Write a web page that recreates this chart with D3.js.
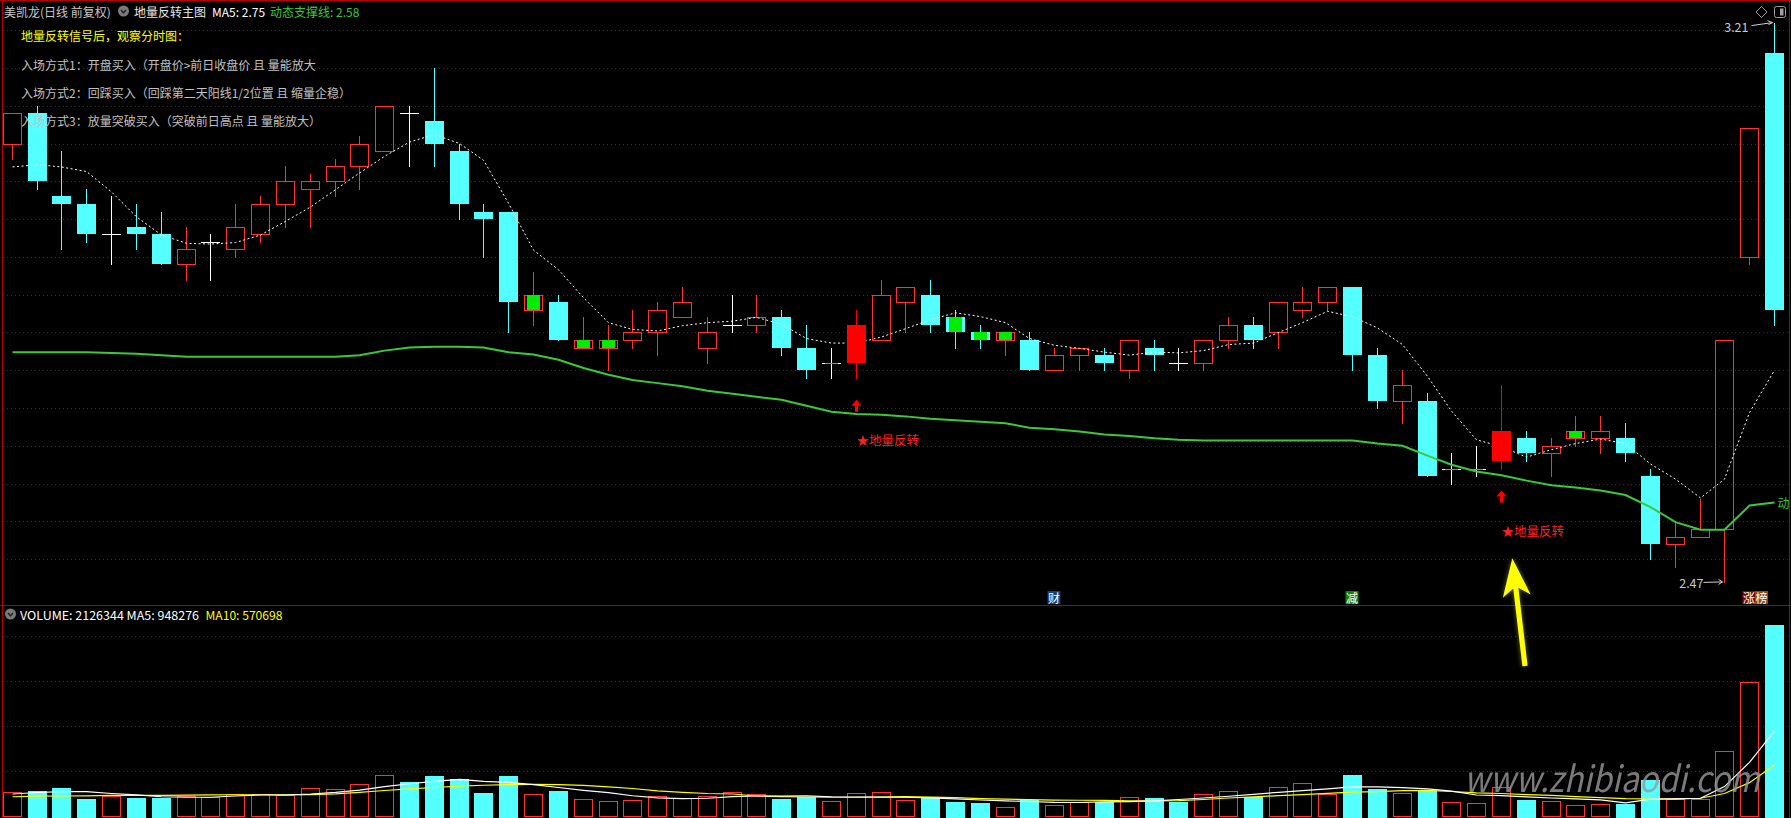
<!DOCTYPE html>
<html><head><meta charset="utf-8">
<script src="https://cdn.jsdelivr.net/npm/d3@7"></script>
<style>
html,body{margin:0;padding:0;background:#000;overflow:hidden}
svg{display:block}
text{font-family:"Noto Sans CJK SC","Noto Sans",sans-serif}
</style></head><body><svg id="c" width="1791" height="818"></svg>
<script>
// ---------- data ----------
const opens=[3.05,3.09,2.98,2.97,2.93,2.94,2.93,2.89,2.92,2.91, 2.93,2.97,2.99,3.00,3.02,3.04,3.09,3.08,3.04,2.96, 2.96,2.83,2.84,2.78,2.78,2.79,2.80,2.82,2.78,2.81, 2.81,2.82,2.78,2.76,2.76,2.79,2.84,2.85,2.82,2.80, 2.79,2.79,2.75,2.77,2.77,2.75,2.78,2.76,2.76,2.79, 2.81,2.80,2.83,2.84,2.86,2.77,2.71,2.71,2.62,2.62, 2.63,2.66,2.64,2.66,2.66,2.66,2.61,2.52,2.53,2.54, 2.90,3.17];
const closes=[3.09,3.00,2.97,2.93,2.93,2.93,2.89,2.91,2.92,2.94, 2.97,3.00,3.00,3.02,3.05,3.10,3.09,3.05,2.97,2.95, 2.84,2.85,2.79,2.79,2.79,2.80,2.83,2.84,2.80,2.81, 2.82,2.78,2.75,2.76,2.81,2.85,2.86,2.81,2.80,2.79, 2.80,2.75,2.77,2.78,2.76,2.79,2.77,2.76,2.79,2.81, 2.79,2.84,2.84,2.86,2.77,2.71,2.73,2.61,2.62,2.62, 2.67,2.64,2.65,2.67,2.67,2.64,2.52,2.53,2.54,2.79, 3.07,2.83];
const highs=[3.09,3.10,3.04,2.99,2.98,2.97,2.96,2.94,2.93,2.97, 2.98,3.02,3.01,3.03,3.06,3.10,3.10,3.15,3.05,2.97, 2.96,2.88,2.85,2.82,2.81,2.83,2.84,2.86,2.82,2.85, 2.85,2.83,2.81,2.78,2.83,2.87,2.86,2.87,2.83,2.81, 2.80,2.80,2.78,2.78,2.78,2.79,2.79,2.78,2.79,2.82, 2.82,2.84,2.86,2.86,2.86,2.78,2.75,2.72,2.64,2.65, 2.73,2.67,2.66,2.69,2.69,2.68,2.62,2.55,2.58,2.79, 3.07,3.21];
const lows=[3.03,2.99,2.91,2.92,2.89,2.91,2.89,2.87,2.87,2.90, 2.92,2.94,2.94,2.98,2.99,3.04,3.02,3.02,2.95,2.90, 2.80,2.81,2.79,2.78,2.75,2.78,2.77,2.82,2.76,2.80, 2.80,2.77,2.74,2.74,2.74,2.79,2.80,2.80,2.78,2.78, 2.77,2.75,2.75,2.75,2.75,2.74,2.75,2.75,2.75,2.78, 2.78,2.78,2.82,2.83,2.75,2.70,2.68,2.61,2.60,2.61, 2.62,2.63,2.61,2.65,2.64,2.63,2.50,2.49,2.53,2.47, 2.89,2.81];
const ma5Line=[3.019,3.022,3.019,3.013,2.986,2.953,2.929,2.918,2.917,2.919, 2.929,2.947,2.966,2.989,3.011,3.033,3.052,3.062,3.050,3.028, 2.971,2.909,2.883,2.846,2.813,2.804,2.802,2.809,2.813,2.815, 2.820,2.811,2.792,2.786,2.786,2.794,2.805,2.817,2.826,2.821, 2.813,2.792,2.783,2.779,2.774,2.770,2.774,2.773,2.776,2.784, 2.786,2.800,2.813,2.828,2.821,2.806,2.784,2.742,2.696,2.658, 2.649,2.635,2.645,2.653,2.659,2.653,2.626,2.606,2.581,2.606, 2.694,2.750];
const supportLine=[2.774,2.774,2.774,2.774,2.773,2.772,2.770,2.768,2.768,2.768, 2.768,2.768,2.768,2.768,2.770,2.776,2.780,2.781,2.781,2.780, 2.774,2.771,2.764,2.753,2.744,2.737,2.733,2.729,2.723,2.719, 2.715,2.711,2.703,2.695,2.692,2.691,2.689,2.686,2.684,2.682, 2.680,2.674,2.672,2.669,2.665,2.663,2.660,2.658,2.657,2.657, 2.657,2.657,2.657,2.657,2.657,2.653,2.650,2.637,2.625,2.616, 2.611,2.604,2.598,2.595,2.591,2.585,2.569,2.549,2.539,2.539, 2.571,2.575];
const volumes=[268000,282000,316000,194000,223000,205000,205000,231000,220000,249000, 249000,235000,312000,301000,360000,460000,382000,449000,411000,260000, 449000,249000,282000,190000,168000,183000,223000,200000,223000,268000, 249000,194000,216000,168000,257000,268000,179000,220000,161000,150000, 101000,186000,124000,157000,161000,212000,205000,157000,246000,279000, 212000,323000,368000,249000,460000,305000,260000,282000,157000,146000, 323000,183000,168000,124000,135000,138000,400000,194000,194000,729000, 1486000,2126344];
const volMa5=[249000,266000,275000,275000,255000,239000,219000,213000,213000,227000, 238000,238000,249000,268000,293000,330000,363000,390000,412000,390000, 377000,352000,321000,290000,264000,230000,207000,199000,202000,220000, 227000,227000,229000,219000,216000,214000,213000,205000,196000,183000, 172000,166000,157000,155000,161000,165000,174000,188000,205000,224000, 246000,268000,287000,305000,327000,327000,319000,307000,282000,238000, 232000,218000,205000,195000,185000,152000,193000,196000,202000,331000, 600000,948276];
const volMa10=[219000,225000,227000,229000,233000,235000,235000,237000,240000,241000, 241000,239000,243000,251000,267000,288000,305000,321000,336000,346000, 354000,356000,354000,344000,328000,310000,283000,268000,255000,249000, 227000,220000,216000,213000,213000,216000,219000,214000,208000,199000, 193000,187000,182000,180000,178000,174000,173000,175000,188000,205000, 217000,231000,243000,256000,270000,276000,287000,290000,277000,261000, 255000,243000,233000,220000,210000,197000,194000,196000,202000,255000, 375000,570698];
const greenMarks=[22,24,25,34,39,40,41,59,60,64];   // bar numbers (1-based)
const signalBars=[35,61];                            // 地量反转 signals
const eventTags=[{bar:43,text:"财",bg:"#123f80"},{bar:55,text:"减",bg:"#0a840a"},{bar:71,text:"涨",bg:"#7a0a0a"},{bar:71,text:"榜",bg:"#8c4c10",shift:1}];
const priceGrid=[3.20,3.15,3.10,3.05,3.00,2.95,2.90,2.85,2.80,2.75,2.70,2.65,2.60,2.55,2.50];
const volGrid=[500000,1000000,1500000,2000000];
const titleParts=[{t:"美凯龙(日线 前复权)",c:"#c8c8c8",x:4},{t:"地量反转主图",c:"#e6e6e6",x:134},{t:"MA5: 2.75",c:"#ffffff",x:212},{t:"动态支撑线: 2.58",c:"#3cc83c",x:270}];
const notes=[{t:"地量反转信号后，观察分时图：",c:"#ffff00"},{t:"入场方式1：开盘买入（开盘价>前日收盘价 且 量能放大",c:"#c0c0c0"},{t:"入场方式2：回踩买入（回踩第二天阳线1/2位置 且 缩量企稳）",c:"#c0c0c0"},{t:"入场方式3：放量突破买入（突破前日高点 且 量能放大）",c:"#c0c0c0"}];
const noteY=[35,64.7,92.8,120.5];

// ---------- setup ----------
const svg=d3.select("#c");
const RED="#ff3232",CYAN="#54ffff",GREEN="#00ec00",SIG="#ff0000",GRID="#a00000",FRAME="#b40000",SUP="#3cc83c";
const n=closes.length, idx=d3.range(n);
const x=d3.scaleBand().domain(idx).range([0,1787]).paddingInner(0.23).paddingOuter(0.115);
const y=d3.scaleLinear().domain([2.47,3.21]).range([581.9,22.6]);
const yv=d3.scaleLinear().domain([0,2126344]).range([816.5,624.5]);
const bw=Math.round(x.bandwidth());
const L=i=>Math.round(x(i));
const C=i=>L(i)+Math.floor(bw/2)+0.5;
const R=v=>Math.round(v);
const sig=new Set(signalBars.map(d=>d-1)), gm=new Set(greenMarks.map(d=>d-1));

svg.append("rect").attr("width",1791).attr("height",818).attr("fill","#000");

// grids
const grid=svg.append("g").attr("shape-rendering","crispEdges");
grid.selectAll(".pg").data(priceGrid).join("line").attr("x1",3).attr("x2",1789)
  .attr("y1",d=>R(y(d))+0.5).attr("y2",d=>R(y(d))+0.5).attr("stroke",GRID).attr("stroke-dasharray","1,3");
grid.selectAll(".vg").data(volGrid).join("line").attr("x1",3).attr("x2",1789)
  .attr("y1",d=>R(yv(d))+0.5).attr("y2",d=>R(yv(d))+0.5).attr("stroke",GRID).attr("stroke-dasharray","1,3");

// frame
const fr=svg.append("g").attr("stroke",FRAME).attr("shape-rendering","crispEdges");
fr.append("line").attr("x1",0).attr("x2",1791).attr("y1",0.5).attr("y2",0.5);
fr.append("line").attr("x1",2.5).attr("x2",2.5).attr("y1",0).attr("y2",818);
fr.append("line").attr("x1",1789.5).attr("x2",1789.5).attr("y1",0).attr("y2",818);
fr.append("line").attr("x1",0).attr("x2",1791).attr("y1",605.5).attr("y2",605.5);

// candles
const cg=svg.append("g").attr("shape-rendering","crispEdges");
idx.forEach(i=>{
  const o=opens[i],c=closes[i],h=highs[i],l=lows[i];
  const yt=R(y(Math.max(o,c))), yb=R(y(Math.min(o,c))), yh=R(y(h)), yl=R(y(l));
  const cx=C(i), lx=L(i);
  if(sig.has(i)) return;
  if(c>o){
    if(yh<yt) cg.append("line").attr("x1",cx).attr("x2",cx).attr("y1",yh).attr("y2",yt).attr("stroke",RED);
    if(yl>yb) cg.append("line").attr("x1",cx).attr("x2",cx).attr("y1",yb+1).attr("y2",yl+1).attr("stroke",RED);
    cg.append("rect").attr("x",lx+0.5).attr("y",yt+0.5).attr("width",bw-1).attr("height",yb-yt).attr("fill","none").attr("stroke",RED);
  } else if(c<o){
    cg.append("line").attr("x1",cx).attr("x2",cx).attr("y1",yh).attr("y2",yl+1).attr("stroke",CYAN);
    cg.append("rect").attr("x",lx).attr("y",yt).attr("width",bw).attr("height",Math.max(1,yb-yt)).attr("fill",CYAN);
  } else {
    cg.append("line").attr("x1",cx).attr("x2",cx).attr("y1",yh).attr("y2",yl+1).attr("stroke","#ffffff");
    cg.append("line").attr("x1",lx).attr("x2",lx+bw).attr("y1",yt+0.5).attr("y2",yt+0.5).attr("stroke","#ffffff");
  }
  if(gm.has(i)){
    cg.append("rect").attr("x",lx+3).attr("y",yt).attr("width",bw-6).attr("height",Math.max(1,yb-yt)).attr("fill",GREEN);
  }
});

// support line + MA5
svg.append("path").datum(supportLine).attr("fill","none").attr("stroke",SUP).attr("stroke-width",2)
  .attr("d",d3.line().x((d,i)=>C(i)).y(d=>y(d)));
svg.append("path").datum(ma5Line).attr("fill","none").attr("stroke","#ffffff").attr("stroke-width",1)
  .attr("stroke-dasharray","2,2.5").attr("d",d3.line().x((d,i)=>C(i)).y(d=>y(d)));

// signal candles + markers
signalBars.map(d=>d-1).forEach(i=>{
  const o=opens[i],c=closes[i];
  const yt=R(y(Math.max(o,c))), yb=R(y(Math.min(o,c))), yh=R(y(highs[i])), yl=R(y(lows[i]));
  const cx=C(i), lx=L(i);
  svg.append("line").attr("x1",cx).attr("x2",cx).attr("y1",yh).attr("y2",yl+1).attr("stroke",SIG).attr("shape-rendering","crispEdges");
  svg.append("rect").attr("x",lx).attr("y",yt).attr("width",bw).attr("height",yb-yt).attr("fill",SIG).attr("shape-rendering","crispEdges");
  const top=y(lows[i])+22;
  svg.append("path").attr("d",`M${cx-5},${top+6}L${cx},${top}L${cx+5},${top+6}Z`).attr("fill",SIG);
  svg.append("rect").attr("x",cx-1.5).attr("y",top+5.5).attr("width",3).attr("height",6.5).attr("fill",SIG);
  svg.append("text").attr("x",cx).attr("y",y(lows[i])+62).attr("dominant-baseline","central")
    .attr("font-size",12.5).attr("fill","#ff2020").text("★地量反转");
});

// end label of support line
svg.append("text").attr("x",C(n-1)+3).attr("y",y(supportLine[n-1])).attr("dominant-baseline","central")
  .attr("font-size",12).attr("fill",SUP).text("动");

// high/low labels
const hi=d3.maxIndex(highs), lo=d3.minIndex(lows);
const hx=C(hi), hy=y(highs[hi]);
svg.append("path").attr("d",`M${hx-23},${hy+3}L${hx-2},${hy}M${hx-7},${hy-2}L${hx-2},${hy}L${hx-6},${hy+2}`).attr("stroke","#d0d0d0").attr("fill","none");
svg.append("text").attr("x",hx-26).attr("y",hy+4).attr("text-anchor","end").attr("dominant-baseline","central").attr("font-size",12.5).attr("fill","#c8c8c8").text(highs[hi].toFixed(2));
const lx2=C(lo), ly2=y(lows[lo]);
svg.append("path").attr("d",`M${lx2-21},${ly2+0.5}L${lx2-2},${ly2}M${lx2-6},${ly2-2.5}L${lx2-2},${ly2}L${lx2-6},${ly2+2.5}`).attr("stroke","#d0d0d0").attr("fill","none");
svg.append("text").attr("x",lx2-21).attr("y",ly2+1).attr("text-anchor","end").attr("dominant-baseline","central").attr("font-size",12.5).attr("fill","#c8c8c8").text(lows[lo].toFixed(2));

// event tags
eventTags.forEach(t=>{
  const cx=C(t.bar-1)-0.5+(t.shift?12.5:0);
  svg.append("rect").attr("x",cx-6.5).attr("y",591).attr("width",13).attr("height",13).attr("fill",t.bg);
  svg.append("text").attr("x",cx).attr("y",597.5).attr("text-anchor","middle").attr("dominant-baseline","central")
    .attr("font-size",12).attr("fill","#ffffff").text(t.text);
});

// volume bars
const vg=svg.append("g").attr("shape-rendering","crispEdges");
idx.forEach(i=>{
  const up=closes[i]>opens[i]||(closes[i]===opens[i]&&(i===0||closes[i]>=closes[i-1]));
  const top=R(yv(volumes[i])), lx=L(i);
  if(up) vg.append("rect").attr("x",lx+0.5).attr("y",top+0.5).attr("width",bw-1).attr("height",816-top).attr("fill","none").attr("stroke",RED);
  else vg.append("rect").attr("x",lx).attr("y",top).attr("width",bw).attr("height",818-top).attr("fill",CYAN);
});
svg.append("path").datum(volMa10).attr("fill","none").attr("stroke","#ffff00").attr("stroke-width",1.2)
  .attr("d",d3.line().x((d,i)=>C(i)).y(d=>yv(d)));
svg.append("path").datum(volMa5).attr("fill","none").attr("stroke","#ffffff").attr("stroke-width",1.2)
  .attr("d",d3.line().x((d,i)=>C(i)).y(d=>yv(d)));

// titles
titleParts.forEach(p=>svg.append("text").attr("x",p.x).attr("y",11).attr("dominant-baseline","central").attr("font-size",12).attr("fill",p.c).text(p.t));
function icon(cx,cy){
  svg.append("circle").attr("cx",cx).attr("cy",cy).attr("r",5.5).attr("fill","#7a7a7a");
  svg.append("path").attr("d",`M${cx-2.5},${cy-1}L${cx},${cy+1.8}L${cx+2.5},${cy-1}`).attr("stroke","#262626").attr("stroke-width",1.6).attr("fill","none");
}
icon(123.5,11);
notes.forEach((p,k)=>svg.append("text").attr("x",21).attr("y",noteY[k]).attr("dominant-baseline","central").attr("font-size",12).attr("fill",p.c).text(p.t));
icon(10.5,614);
svg.append("text").attr("x",20).attr("y",614).attr("dominant-baseline","central").attr("font-size",12).attr("fill","#ffffff")
  .attr("textLength",179).attr("lengthAdjust","spacingAndGlyphs").text("VOLUME: "+volumes[n-1]+" MA5: "+volMa5[n-1]);
svg.append("text").attr("x",205.5).attr("y",614).attr("dominant-baseline","central").attr("font-size",12).attr("fill","#ffff00")
  .attr("textLength",77).attr("lengthAdjust","spacingAndGlyphs").text("MA10: "+volMa10[n-1]);

// top-right icons
svg.append("path").attr("d","M1761.5,6.5L1767,12L1761.5,17.5L1756,12Z").attr("fill","none").attr("stroke","#a0a0a0");
svg.append("rect").attr("x",1774.5).attr("y",6.5).attr("width",11).attr("height",11).attr("rx",2).attr("fill","none").attr("stroke","#a0a0a0");
svg.append("rect").attr("x",1780).attr("y",8.5).attr("width",3.5).attr("height",7).attr("fill","#a0a0a0");

// yellow annotation arrow pointing at the second signal
(function(){
  const i=signalBars[1]-1, bx=C(i);
  const tip=[bx+10.8,558.3], tail=[bx+23.5,666];
  const dx=tip[0]-tail[0], dy=tip[1]-tail[1], len=Math.hypot(dx,dy), ux=dx/len, uy=dy/len, nx=-uy, ny=ux;
  const hb=[tip[0]-ux*38,tip[1]-uy*38], nb=[tip[0]-ux*30,tip[1]-uy*30];
  const P=(p,k)=>`${p[0]+nx*k},${p[1]+ny*k}`;
  const d=`M${tip[0]},${tip[1]}L${P(hb,14)}L${P(nb,2.6)}L${P(tail,2.6)}L${P(tail,-2.6)}L${P(nb,-2.6)}L${P(hb,-14)}Z`;
  const defs=svg.append("defs");
  defs.append("filter").attr("id","glow").attr("x","-50%").attr("y","-50%").attr("width","200%").attr("height","200%")
    .append("feGaussianBlur").attr("stdDeviation",2.5);
  svg.append("path").attr("d",d).attr("fill","#8a8a50").attr("opacity",0.8).attr("filter","url(#glow)");
  svg.append("path").attr("d",d).attr("fill","#ffff00");
})();

// watermark
svg.append("text").attr("x",1464).attr("y",792).attr("font-family","Liberation Sans, Arial, sans-serif").attr("font-style","italic")
  .attr("font-size",36).attr("fill","#9a9a9a").attr("opacity",0.8).attr("textLength",296).attr("lengthAdjust","spacingAndGlyphs")
  .text("www.zhibiaodi.com");
</script></body></html>
